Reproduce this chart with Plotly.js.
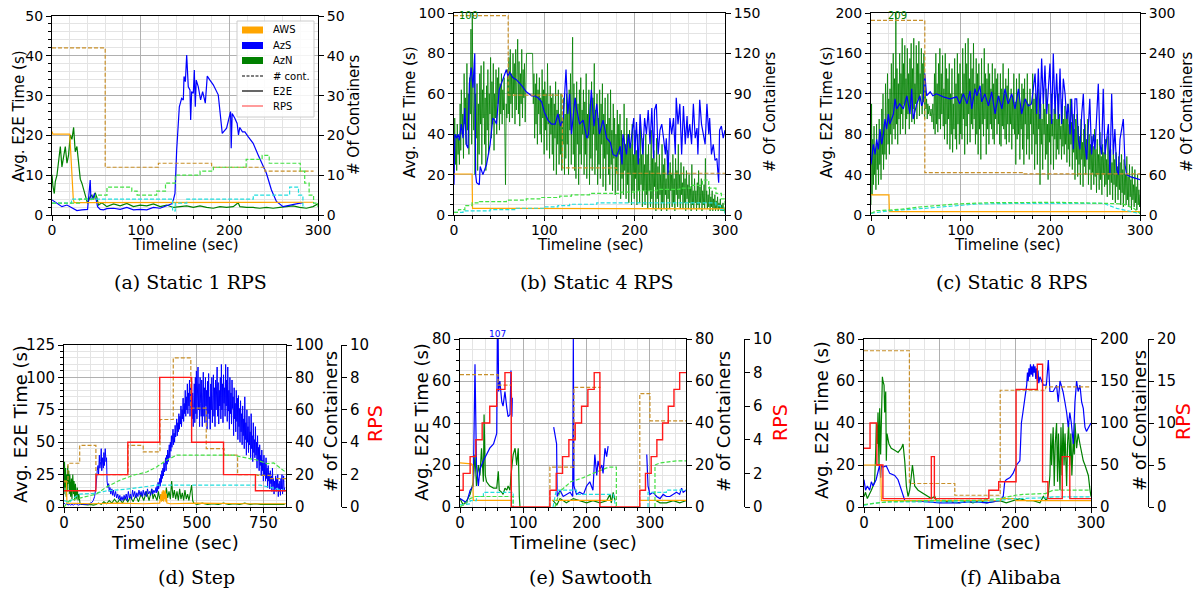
<!DOCTYPE html>
<html><head><meta charset="utf-8">
<script src="https://cdn.plot.ly/plotly-3.0.1.min.js"></script>
<style>html,body{margin:0;padding:0;background:#fff;}#chart{width:1198px;height:592px;}</style>
</head><body><div id="chart"></div>
<script>
// ---------- (a) Static 1 RPS ----------
const A_AWS_E2E = [[0,21],[1,20.3],[20,20.3],[22,12],[24,4],[25,3.1],[130,3.1],[131,3.2],[295,3.2]];
const A_AZS_E2E = [[0,3.8],[5.6,2.9],[11.2,2.1],[16.9,2.5],[22.5,1.7],[28.1,1.1],[33.7,1.3],[40.1,1.4],[43.1,8.8],[43.9,3.8],[46.1,4.2],[48,5.4],[49.9,3.8],[51.4,2.1],[54.4,1.4],[58.1,1.3],[61.9,1.6],[69.4,1.7],[76.9,1.4],[84.4,1.9],[91.9,1.3],[99.4,1.4],[106.9,1.3],[114.4,1.9],[121.9,1.7],[129.4,2.3],[135,2.8],[136.9,3.8],[138.7,5.4],[140.6,16.3],[143.6,27.2],[146.2,29.3],[148.1,28.9],[148.9,34.8],[150.4,33.5],[151.9,40.2],[153.7,32.2],[155.6,31.4],[156.4,23.9],[157.5,31],[159.4,30.6],[160.5,36.4],[161.6,27.2],[162.7,33.9],[165,32.2],[167.6,28.9],[169.9,31],[172.9,28.1],[175.1,34.9],[178.1,33.9],[181.9,32.7],[187.5,30.2],[192,20.5],[196.9,21.8],[201.4,26],[202.1,16.8],[203.2,25.5],[206.2,24.3],[208.8,23],[210.3,20.1],[211.8,22],[214.8,20.9],[217.5,20.9],[221.2,19.7],[226.9,18],[232.5,15.1],[238.1,12.1],[241.8,10.5],[247.5,6.3],[253.1,3.4],[260.6,2.1],[268.1,2.5],[275.6,2.8],[283.1,3.1]];
const A_AZN_E2E = [[0,10.1],[1.1,7.1],[2.6,5.4],[3.7,8.4],[5.6,10],[7.5,13],[9.4,17.2],[11.2,12.1],[13.1,15.1],[15,17.2],[16.9,13],[18.7,15.1],[20.6,20.1],[22.5,19],[24.4,22],[26.2,15.9],[28.1,17.2],[30,12.1],[31.9,9],[33.7,8],[37.5,5],[40.1,2.9],[43.1,4.6],[45,5],[46.9,3.8],[48.7,5.6],[50.6,4.4],[52.5,2.5],[56.2,3.1],[61.9,2.1],[69.4,2.8],[76.9,2.3],[84.4,2.9],[91.9,2.1],[99.4,2.5],[106.9,2.3],[114.4,2.8],[121.9,2.1],[129.4,2.5],[136.9,1.9],[144.4,2.1],[151.9,2.3],[159.4,1.9],[166.9,2.3],[174.4,1.9],[181.9,1.7],[189.4,2.1],[196.9,1.9],[204.4,2.1],[210,3.1],[211.9,2.1],[219.4,1.9],[226.9,1.9],[234.4,1.7],[241.9,1.9],[249.4,1.7],[256.9,1.9],[264.4,2.1],[271.9,2.3],[279.4,1.9],[286.9,1.7],[294.4,2.1],[300,2.8]];
const A_AWS_CNT = [[0,42],[60,12],[120,13],[180,12],[240,11],[295,11]];
const A_AZS_CNT = [[0,3],[22,4],[136,1],[139,3],[152,4],[227,5],[268,7],[278,5],[283,2],[285,2]];
const A_AZN_CNT = [[0,3],[31,4],[49,5],[62,7],[90,6],[96,5],[118,6],[128,8],[139,10],[167,11],[182,12],[219,14],[237,15],[245,13],[280,11],[285,8],[290,5],[295,3],[300,2]];

// ---------- (b) Static 4 RPS ----------
const B_AWS_E2E = [[0,20.3],[20,20.3],[20.5,3.3],[200,3.3],[201,3],[300,3]];
const B_AZS_E2E = [[0,15],[1,40],[3,38],[4.5,40],[6,37],[8,45],[10,38],[12,53],[13.5,35],[15.5,33],[17,65],[19,73],[21,63],[23,80],[24,20],[25,16],[28,15],[29,24],[32,20],[36,25],[40,35],[41,40],[43,48],[45,47],[47,45],[50,62],[54,67],[58,72],[60,68],[61,71],[65,68],[69,67],[75,64],[80,61],[86,59],[89,59],[93,58],[97,56],[100,51],[104,47],[108,45],[112,45],[115,50],[118,44],[121,48],[124,72],[126,50],[128,60],[130,40],[134,58],[136,52],[139,45],[143,47],[147,38],[149,40],[152,62],[155,44],[158,55],[160,45],[161,40],[165,47],[169,38],[173,36],[176,30],[180,29],[184,34],[186,25],[187,40],[191,30],[193,40],[195,33],[199,48],[200,30],[202,46],[204,25],[206,50],[209,30],[211,48],[213,40],[215,52],[217,35],[219,53],[221,28],[222,52],[224,55],[226,30],[228,42],[230,45],[232,38],[234,30],[235,38],[237,20],[239,48],[241,40],[243,48],[245,30],[246,58],[248,45],[250,55],[252,30],[254,54],[256,35],[258,49],[259,38],[261,45],[263,35],[265,55],[267,38],[269,43],[270,30],[272,57],[274,45],[276,40],[278,35],[280,55],[282,40],[283,48],[285,30],[287,35],[289,27],[291,28],[293,16],[294,42],[296,44],[298,38],[300,42]];
const B_AZN_E2E = [[0,20],[0.8,48],[1.5,25],[2.3,40],[3,22],[3.6,45],[4.5,30],[5.2,38],[6,25],[6.8,55],[7.5,32],[8.1,62],[9,40],[9.7,50],[10.5,28],[11.2,70],[12,45],[12.6,58],[13.5,35],[14.3,75],[15,42],[15.8,60],[16.5,30],[17.3,68],[18,50],[18.8,92],[19.6,35],[20.2,100],[21,55],[21.8,42],[22.5,72],[23.2,20],[24,60],[24.7,38],[25.5,65],[26.2,22],[27,55],[27.8,30],[28.5,70],[29.3,45],[30,74],[30.8,25],[31.5,62],[32.3,48],[33,76],[33.8,35],[34.5,58],[35.3,22],[36,64],[36.8,42],[37.5,72],[38.3,30],[39,60],[39.8,50],[40.5,78],[41.3,38],[42,66],[42.8,45],[43.5,75],[44.3,32],[45,60],[45.8,48],[46.5,72],[47.3,40],[48,68],[48.8,55],[49.5,73],[50.3,42],[51,65],[51.8,50],[52.5,70],[53.3,45],[54,62],[54.8,52],[55.5,68],[56.2,40],[57,15],[57.8,55],[58.5,48],[59.3,72],[60,50],[60.8,78],[61.5,46],[62.3,82],[63,55],[63.8,70],[64.5,48],[65.3,80],[66,60],[66.8,75],[67.5,45],[68.3,82],[69,52],[69.8,68],[70.5,87],[71.3,50],[72,76],[72.8,44],[73.5,70],[74.3,55],[75,82],[75.8,48],[76.5,72],[77.3,58],[78,75],[78.8,46],[79.5,70],[80.3,80],[87,80],[87.8,55],[88.5,70],[89.3,38],[90,65],[90.8,45],[91.5,70],[92.3,35],[93,62],[93.8,50],[94.5,68],[95.3,40],[96,58],[96.8,36],[97.5,72],[98.3,48],[99,62],[99.8,30],[100.5,66],[101.3,42],[102,60],[102.8,32],[103.5,75],[104.3,45],[105,55],[105.8,28],[106.5,64],[107.3,40],[108,58],[108.8,30],[109.5,60],[110.3,22],[111,55],[111.8,38],[112.5,66],[113.3,20],[114,52],[114.8,35],[115.5,62],[116.3,25],[117,50],[117.8,30],[118.5,60],[119.3,22],[120,48],[120.8,35],[121.5,58],[122.3,20],[123,50],[123.8,28],[124.5,60],[125.3,35],[126,55],[126.8,20],[127.5,62],[128.3,42],[129,70],[129.8,25],[130.5,60],[131.3,88],[132,30],[132.8,65],[133.5,22],[134.3,58],[135,18],[135.8,66],[136.5,35],[137.3,55],[138,15],[138.8,62],[139.5,30],[140.3,68],[141,25],[141.8,52],[142.5,40],[143.3,62],[144,20],[144.8,56],[145.5,30],[146.3,70],[147,18],[147.8,50],[148.5,38],[149.3,62],[150,15],[150.8,55],[151.5,28],[152.3,66],[153,22],[153.8,58],[154.5,40],[155.3,75],[156,20],[156.8,52],[157.5,32],[158.3,60],[159,15],[159.8,48],[160.5,25],[161.3,62],[162,18],[162.8,55],[163.5,35],[164.3,65],[165,14],[165.8,50],[166.5,28],[167.3,58],[168,12],[168.8,45],[169.5,30],[170.3,60],[171,20],[171.8,48],[172.5,15],[173.3,62],[174,25],[174.8,42],[175.5,12],[176.3,55],[177,28],[177.8,48],[178.5,10],[179.3,40],[180,22],[180.8,52],[181.5,12],[182.3,45],[183,30],[183.8,50],[184.5,8],[185.3,42],[186,18],[186.8,38],[187.5,10],[188.3,55],[189,22],[189.8,35],[190.5,8],[191.3,48],[192,15],[192.8,40],[193.5,6],[194.3,42],[195,20],[195.8,35],[196.5,5],[197.3,45],[198,12],[198.8,30],[199.5,8],[200.3,42],[201,18],[201.8,32],[202.5,5],[203.3,40],[204,12],[204.8,28],[205.5,6],[206.3,45],[207,15],[207.8,30],[208.5,4],[209.3,38],[210,12],[210.8,25],[211.5,5],[212.3,40],[213,10],[213.8,30],[214.5,3],[215.3,35],[216,12],[216.8,22],[217.5,4],[218.3,42],[219,8],[219.8,28],[220.5,3],[221.3,32],[222,14],[222.8,26],[223.5,2],[224.3,38],[225,8],[225.8,24],[226.5,3],[227.3,30],[228,10],[228.8,20],[229.5,2],[230.3,35],[231,6],[231.8,25],[232.5,3],[233.3,28],[234,10],[234.8,18],[235.5,2],[236.3,32],[237,8],[237.8,22],[238.5,3],[239.3,26],[240,12],[240.8,20],[241.5,4],[242.3,30],[243,6],[243.8,18],[244.5,2],[245.3,28],[246,10],[246.8,22],[247.5,4],[248.3,35],[249,8],[249.8,20],[250.5,3],[251.3,26],[252,10],[252.8,16],[253.5,3],[254.3,24],[255,6],[255.8,18],[256.5,2],[257.3,22],[258,8],[258.8,15],[259.5,3],[260.3,20],[261,6],[261.8,14],[262.5,2],[263.3,25],[264,5],[264.8,12],[265.5,3],[266.3,18],[267,6],[267.8,12],[268.5,2],[269.3,16],[270,5],[270.8,22],[271.5,3],[272.3,14],[273,6],[273.8,18],[274.5,2],[275.3,12],[276,5],[276.8,15],[277.5,3],[278.3,28],[279,6],[279.8,12],[280.5,3],[281.3,10],[282,4],[282.8,14],[283.5,2],[284.3,9],[285,4],[285.8,12],[286.5,2],[287.3,8],[288,3],[288.8,10],[289.5,2],[290.3,7],[291,3],[291.8,9],[292.5,2],[293.3,6],[294,3],[294.8,8],[295.5,2],[296.3,5],[297,2],[297.8,6],[298.5,2],[299.3,3],[300,1]];
const B_AWS_CNT = [[0,148],[60,89],[120,35],[180,31],[300,31]];
const B_AZS_CNT = [[0,2],[10,3],[40,4],[69,5],[99,6],[115,7],[128,8],[158,9],[283,9],[290,7],[295,4],[300,1]];
const B_AZN_CNT = [[0,2],[5,4],[12,7],[20,9],[28,10],[58,11],[80,12],[95,13],[117,14],[130,15],[150,16],[185,17],[200,18],[225,19],[250,20],[262,22],[275,26],[282,20],[290,16],[296,12],[300,2]];

// ---------- (c) Static 8 RPS ----------
const C_AWS_E2E = [[0,20],[20,20],[20.5,3.3],[300,3.3]];
const C_AZS_E2E = [[0,50],[2.6,70],[4.5,60],[6.3,75],[8.2,65],[10,85],[11.9,70],[13.8,80],[15.6,95],[17.5,85],[19.3,100],[21,90],[25,100],[26.8,115],[28.6,105],[32,110],[36,105],[40,118],[43.5,100],[45.4,125],[47,95],[51,110],[54.6,118],[56.5,108],[58,112],[60,140],[62,118],[66,122],[69,118],[73,120],[80.6,117],[88,115],[95.6,117],[99,110],[103,120],[107,110],[110.4,123],[112.3,105],[116,125],[118,118],[121.6,128],[123.4,112],[127,120],[131,108],[134.6,122],[138.4,100],[142,118],[146,105],[149.4,125],[153,110],[157,120],[160.6,105],[164.4,125],[168,100],[171.7,115],[175.5,108],[179,110],[183,140],[184.8,100],[186.6,145],[188.5,95],[190.3,155],[192.2,110],[194,148],[196,100],[197.8,130],[199.6,150],[201.5,90],[203.3,160],[205.2,100],[207,140],[209,95],[210.8,145],[212.6,90],[214.5,135],[216.4,120],[218.2,95],[220,110],[222,80],[223.8,115],[225.7,65],[227.5,115],[229.4,115],[231.2,75],[233,65],[235,100],[236.8,120],[238.7,70],[240.5,55],[244,115],[246,60],[248,80],[249.8,65],[253.5,130],[255.4,70],[257.2,60],[259,125],[261,60],[264.7,90],[266.5,40],[268.4,120],[270.3,60],[272,85],[274,45],[276,40],[277.7,75],[281.4,95],[283.3,50],[285,40],[289,38],[292.6,37],[296.4,36],[300,35]];
const C_AZN_E2E = [[0,10],[0.6,110],[1.2,20],[2,75],[2.7,30],[3.4,88],[4,40],[4.8,65],[5.5,25],[6.2,90],[7,45],[7.7,70],[8.4,30],[9.1,95],[9.8,50],[10.5,80],[11.2,35],[12,105],[12.7,60],[13.4,120],[14,45],[14.8,90],[15.5,60],[16.2,130],[17,55],[17.7,100],[18.4,140],[19,70],[19.8,115],[20.5,60],[21.2,125],[22,80],[22.7,150],[23.4,70],[24,110],[24.8,160],[25.5,85],[26.2,135],[27,75],[27.7,209],[28.4,90],[29,145],[29.8,70],[30.5,130],[31.2,95],[32,160],[32.7,80],[33.4,140],[34,100],[34.8,175],[35.5,85],[36.2,150],[37,110],[37.7,168],[38.4,80],[39,135],[39.8,95],[40.5,165],[41.2,100],[42,140],[42.7,85],[43.4,155],[44,110],[44.8,170],[45.5,92],[46.2,145],[47,105],[47.7,175],[48.4,90],[49,130],[49.8,110],[50.5,168],[51.2,95],[52,150],[52.7,115],[53.4,172],[54,98],[54.8,140],[55.5,120],[56.2,165],[57,100],[57.7,150],[58.4,112],[59,160],[59.8,95],[60.5,130],[61.2,105],[62,115],[62.7,95],[63.4,110],[64,100],[65,108],[66,98],[67,105],[68,92],[69,110],[70,85],[70.8,140],[71.5,80],[72.3,160],[73,90],[73.8,130],[74.5,82],[75.3,150],[76,95],[76.8,165],[77.5,85],[78.3,140],[79,100],[79.8,158],[80.5,88],[81.3,125],[82,75],[82.8,160],[83.5,90],[84.3,145],[85,70],[85.8,135],[86.5,95],[87.3,150],[88,65],[88.8,120],[89.5,80],[90.3,145],[91,62],[91.8,110],[92.5,85],[93.3,155],[94,75],[94.8,130],[95.5,65],[96.3,160],[97,90],[97.8,140],[98.5,70],[99.3,150],[100,80],[100.8,120],[101.5,75],[102.3,165],[103,95],[103.8,140],[104.5,60],[105.3,170],[106,88],[106.8,150],[107.5,70],[108.3,175],[109,100],[109.8,135],[110.5,72],[111.3,160],[112,90],[112.8,145],[113.5,85],[114.3,170],[115,95],[115.8,130],[116.5,70],[117.3,155],[118,80],[118.8,140],[119.5,60],[120.3,150],[121,85],[121.8,120],[122.5,55],[123.3,155],[124,90],[124.8,130],[125.5,78],[126.3,165],[127,95],[127.8,140],[128.5,60],[129.3,135],[130,85],[130.8,150],[131.5,70],[132.3,140],[133,90],[133.8,125],[134.5,85],[135.3,150],[136,75],[136.8,130],[137.5,70],[138.3,145],[139,95],[139.8,135],[140.5,80],[141.3,140],[142,90],[142.8,118],[143.5,70],[144.3,140],[145,68],[145.8,125],[146.5,88],[147.3,150],[148,85],[148.8,120],[149.5,75],[150.3,135],[151,70],[151.8,128],[152.5,90],[153.3,145],[154,72],[154.8,115],[155.5,90],[156.3,125],[157,65],[157.8,118],[158.5,85],[159.3,140],[160,80],[160.8,112],[161.5,50],[162.3,135],[163,75],[163.8,120],[164.5,80],[165.3,140],[166,55],[166.8,110],[167.5,85],[168.3,130],[169,65],[169.8,125],[170.5,50],[171.3,135],[172,90],[172.8,115],[173.5,60],[174.3,140],[175,75],[175.8,110],[176.5,55],[177.3,125],[178,90],[178.8,105],[179.5,60],[180.3,140],[181,80],[181.8,115],[182.5,45],[183.3,120],[184,70],[184.8,105],[185.5,50],[186.3,125],[187,85],[187.8,100],[188.5,30],[189.3,110],[190,70],[190.8,95],[191.5,45],[192.3,120],[193,80],[193.8,105],[194.5,55],[195.3,125],[196,60],[196.8,90],[197.5,35],[198.3,110],[199,72],[199.8,100],[200.5,50],[201.3,120],[202,78],[202.8,95],[203.5,45],[204.3,105],[205,75],[205.8,110],[206.5,55],[207.3,95],[208,65],[208.8,120],[209.5,60],[210.3,100],[211,75],[211.8,88],[212.5,55],[213.3,115],[214,68],[214.8,95],[215.5,60],[216.3,108],[217,70],[217.8,95],[218.5,52],[219.3,110],[220,65],[220.8,90],[221.5,48],[222.3,115],[223,70],[223.8,92],[224.5,45],[225.3,100],[226,62],[226.8,85],[227.5,35],[228.3,95],[229,55],[229.8,100],[230.5,38],[231.3,88],[232,50],[232.8,78],[233.5,30],[234.3,95],[235,55],[235.8,72],[236.5,28],[237.3,85],[238,48],[238.8,90],[239.5,40],[240.3,75],[241,55],[241.8,95],[242.5,30],[243.3,80],[244,45],[244.8,70],[245.5,25],[246.3,78],[247,42],[247.8,68],[248.5,30],[249.3,85],[250,38],[250.8,65],[251.5,22],[252.3,75],[253,40],[253.8,60],[254.5,25],[255.3,82],[256,35],[256.8,58],[257.5,20],[258.3,70],[259,40],[259.8,62],[260.5,28],[261.3,75],[262,30],[262.8,55],[263.5,18],[264.3,78],[265,35],[265.8,50],[266.5,20],[267.3,65],[268,32],[268.8,52],[269.5,15],[270.3,70],[271,30],[271.8,55],[272.5,12],[273.3,62],[274,28],[274.8,48],[275.5,15],[276.3,58],[277,25],[277.8,52],[278.5,10],[279.3,60],[280,22],[280.8,45],[281.5,8],[282.3,55],[283,20],[283.8,40],[284.5,10],[285.3,58],[286,15],[286.8,38],[287.5,8],[288.3,50],[289,18],[289.8,35],[290.5,5],[291.3,48],[292,15],[292.8,30],[293.5,8],[294.3,45],[295,12],[295.8,28],[296.5,5],[297.3,40],[298,10],[298.8,25],[299.5,8],[300,20]];
const C_AWS_CNT = [[0,289],[60,63],[170,61],[300,61]];
const C_AZS_CNT = [[0,2.5],[21,6.4],[60,9.9],[95.5,13.9],[118,16.4],[170,17.4],[259,17.4],[274,9.9],[296,2.5],[300,2]];
const C_AZN_CNT = [[0,2.5],[6.3,6.4],[21,7.4],[32,8.4],[58,12.4],[77,14.9],[95.5,16.4],[133,18.3],[207,18.8],[259,17.4],[281,16.4],[293,9.9],[300,2.5]];

// ---------- (d) Step ----------
const D_AWS_E2E = [[0,20],[9,20],[11,3],[100,2.5],[200,3],[300,2.5],[360,3],[365,10],[367,4],[369,12],[371,5],[373,13],[375,4],[377,12],[379,6],[381,13],[383,4],[385,10],[387,3],[400,2.5],[500,3],[600,2.5],[700,2.5],[835,2.5]];
const D_AZS_E2E = [[0,3],[5,2],[10,2.5],[15,1.5],[20,2],[25,1.5],[30,2],[35,1.5],[40,2],[45,2.5],[50,2],[55,1.5],[60,2],[65,2.5],[70,2],[75,2],[80,1.5],[85,2],[90,2],[95,2.5],[100,3],[105,3.5],[110,5],[115,8],[120,15],[122,25],[125,28],[128,32],[130,25],[133,40],[135,30],[138,35],[140,45],[142,28],[145,38],[148,30],[150,42],[152,32],[155,45],[158,35],[160,38],[162,20],[165,15],[168,18],[170,12],[173,15],[176,10],[180,14],[183,9],[186,13],[190,8],[194,12],[198,7],[202,10],[206,6],[210,9],[214,5],[218,8],[222,5],[226,9],[230,6],[234,10],[238,5],[242,12],[246,7],[250,10],[254,6],[258,13],[262,8],[266,12],[270,7],[274,11],[278,8],[282,13],[286,9],[290,12],[294,8],[298,13],[302,9],[306,12],[310,8],[314,14],[318,10],[322,12],[326,9],[330,14],[334,10],[338,13],[342,11],[346,15],[348,11],[350,16],[352,12],[354,19],[356,14],[358,17],[360,22],[362,16],[364,25],[366,19],[368,28],[370,22],[372,30],[374,24],[376,34],[378,27],[380,31],[382,38],[384,28],[386,40],[388,33],[390,44],[392,35],[394,42],[396,48],[398,38],[400,50],[402,43],[404,55],[406,46],[408,52],[410,60],[412,48],[414,57],[416,50],[418,63],[420,54],[422,60],[424,68],[426,55],[428,65],[430,58],[432,72],[434,60],[436,70],[438,64],[440,78],[442,62],[444,75],[446,68],[448,84],[450,66],[452,80],[454,72],[456,90],[458,70],[460,85],[462,75],[464,95],[466,72],[468,88],[470,78],[472,98],[474,70],[476,92],[478,82],[480,97],[482,68],[484,88],[486,62],[488,80],[490,95],[492,65],[494,100],[496,72],[498,105],[500,68],[502,90],[504,108],[506,75],[508,95],[510,62],[512,100],[514,80],[516,70],[518,98],[520,62],[522,88],[524,104],[526,70],[528,92],[530,65],[532,100],[534,78],[536,90],[538,60],[540,97],[542,72],[544,103],[546,68],[548,85],[550,60],[552,95],[554,75],[556,100],[558,65],[560,88],[562,102],[564,70],[566,92],[568,62],[570,98],[572,75],[574,88],[576,108],[578,70],[580,96],[582,64],[584,90],[586,78],[588,100],[590,68],[592,110],[594,75],[596,95],[598,65],[600,102],[602,80],[604,92],[606,70],[608,110],[610,78],[612,98],[614,66],[616,108],[618,74],[620,90],[622,60],[624,100],[626,72],[628,88],[630,64],[632,98],[634,76],[636,85],[638,55],[640,92],[642,68],[644,80],[646,58],[648,90],[650,66],[652,84],[654,52],[656,86],[658,62],[660,76],[662,50],[664,82],[666,58],[668,72],[670,48],[672,78],[674,55],[676,68],[678,45],[680,85],[682,52],[684,65],[686,40],[688,75],[690,50],[692,62],[694,42],[696,70],[698,48],[700,58],[702,38],[704,72],[706,45],[708,55],[710,35],[712,65],[714,42],[716,52],[718,38],[720,62],[722,40],[724,50],[726,30],[728,55],[730,36],[732,46],[734,28],[736,48],[738,32],[740,40],[742,24],[744,44],[746,28],[748,36],[750,20],[752,40],[754,25],[756,34],[758,20],[760,38],[762,22],[764,30],[766,15],[768,32],[770,20],[772,26],[774,14],[776,28],[778,18],[780,24],[782,12],[784,30],[786,16],[788,22],[790,10],[792,20],[794,14],[796,24],[798,12],[800,22],[802,15],[804,25],[806,8],[808,18],[810,12],[812,20],[814,9],[816,22],[818,14],[820,25],[822,10],[824,18],[826,24],[828,12],[830,15]];
const D_AZN_E2E = [[0,10],[2,35],[4,15],[6,30],[8,8],[10,25],[12,12],[14,32],[16,18],[18,28],[20,10],[22,25],[25,8],[28,22],[30,6],[33,25],[36,10],[38,20],[40,5],[43,18],[46,6],[50,15],[53,5],[56,10],[60,3],[65,2],[70,2],[80,1.5],[90,1.5],[100,2],[110,1.5],[120,2],[130,3],[140,2],[150,4],[160,2.5],[170,5],[180,3],[190,6],[200,3],[210,6],[220,3],[230,7],[240,4],[250,8],[260,4],[270,9],[280,4],[290,10],[300,5],[310,12],[320,5],[330,14],[335,6],[340,10],[350,5],[355,12],[360,6],[365,10],[370,5],[375,12],[380,6],[385,15],[390,7],[395,12],[400,6],[405,20],[410,7],[415,13],[420,6],[425,12],[430,5],[435,14],[440,6],[445,11],[450,5],[455,13],[460,6],[465,10],[470,5],[475,12],[480,17],[484,5],[488,3],[500,2],[520,3],[540,2],[560,2.5],[580,2],[600,3],[620,2],[640,2.5],[660,2],[680,3],[700,2],[720,2.5],[740,2],[760,2],[780,2],[800,2.5],[820,2],[830,2]];
const D_AWS_CNT = [[0,15.5],[15,27],[59,38],[120,20],[241,38],[298,34],[361,54],[411,92],[477,61],[535,36],[602,32],[653,20],[726,19.5],[776,17.5],[835,17.5]];
const D_AZS_CNT = [[0,4],[21,3],[40,6],[59,8],[122,8.5],[160,10],[235,11],[285,12],[348,13.5],[738,13.5],[763,12.5],[833,10]];
const D_AZN_CNT = [[0,0],[21,4],[72,6],[122,8],[160,12.4],[210,16.5],[260,19.6],[311,21.6],[348,24.7],[386,28.9],[424,32],[638,32],[663,31],[726,29],[763,26.8],[789,27.2],[833,21.6]];
const D_RPS = [[0,1],[120,2],[240,4],[360,8],[480,4],[600,2],[720,1],[835,1]];

// ---------- (e) Sawtooth ----------
const E_AWS_E2E = [[0,21],[18,20.5],[20,20],[21,3.2],[81,3.2],[81,null],[145,3.2],[240,3.2],[240,null],[285,3.2],[357,3.2]];
const E_AZS_E2E = [[0,4],[5,3],[10.5,2],[16,8],[21,10],[23.7,68],[26,20],[29,10],[31.5,18],[37,22],[42,25],[47,28],[53,30],[58,35],[59.5,107],[61,55],[63,60],[66,50],[68,48],[71,55],[74,47],[76,43],[79,44],[80.5,65],[82,43],[82.6,52],[83,null],[148,38],[152.6,30],[153.5,5],[158,8],[163,5],[168,6],[174,7],[178,5],[179,80],[180,10],[184,6],[189,7],[195,6],[200,10],[205,12],[210,8],[213,25],[216,15],[218,22],[221,18],[224,20],[226,16],[229,28],[231.6,24],[234,29],[235,null],[295,25],[297,10],[300,6],[305,7],[310.5,5],[316,4],[321,6],[326,5],[331.6,5],[337,6],[342,7],[347,6],[350,9],[352.6,7],[357,8]];
const E_AZN_E2E = [[0,4],[5,1],[10.5,3],[16,6],[21,12],[23.7,25],[26,10],[29,20],[31.5,15],[34,28],[37,12],[38,44],[40,15],[42,12],[47,10],[53,9],[58,9],[60.5,17],[62,8],[66,7],[68,6],[71,9],[74,8],[76,10],[79,8],[80.5,15],[84,25],[87,28],[89.5,20],[92,28],[93.7,5],[94.7,0],[95,null],[147,3],[153,1],[158,4],[163,3],[168,2],[179,4],[189,3],[200,2],[210,3],[221,2],[231.6,3],[237,6],[239,2],[242,7],[245,3],[246,null],[310,3],[316,2],[326,2],[337,3],[347,2],[357,3]];
const E_AWS_CNT = [[0,63],[60,63],[60,58],[81,58],[81,null],[142,0],[142,19],[180,19],[180,57],[222,57],[222,null],[284,0],[284,54],[300,54],[300,41],[357,41]];
const E_AZS_CNT = [[0,1],[16,1.5],[16,3],[26,3],[26,5],[37,5],[37,7],[84,7],[84,0],[84,null],[147,0],[152,8],[184,8],[184,6],[242,6],[246,0],[246,null],[297,0],[297,7],[326,7],[326,8],[357,8]];
const E_AZN_CNT = [[0,0],[10,2],[16,4],[24,5],[84,5],[84,0],[84,null],[150,0],[155,5],[160,8],[168,10],[175,12],[185,13],[195,14],[210,16],[225,18],[235,19],[247,19],[247,0],[247,null],[308,0],[308,20],[316,21],[342,22],[357,22]];
const E_RPS = [[0,1],[5,2],[16,3],[25,4],[35,5],[47,6],[58,7],[71,8],[81,0],[142,1],[152,2],[162,3],[172,4],[182,5],[192,6],[202,7],[212,8],[221,0],[284,1],[293,2],[302,3],[311,4],[320,5],[329,6],[338,7],[347,8],[357,8]];

// ---------- (f) Alibaba ----------
const F_AWS_E2E = [[0,20],[22,20],[23,3],[180,3],[181,4],[200,4],[201,3],[300,3]];
const F_AZS_E2E = [[0,13],[2,8],[4.4,10],[7.5,8],[9.7,12],[12,10],[16,13],[18.5,17],[20.7,20],[22,14],[23,20],[25,19],[29.5,19.5],[34,16],[40.6,15],[45,13],[49.4,8],[54,3],[65,3],[82.5,2.5],[100,2],[122,2],[144,2.5],[162,2],[179.5,3],[184,5],[186,12],[188,13],[193,14],[197,16],[201.6,20],[206,22],[208,40],[210,45],[215,58],[216,64],[217,60],[218,66],[219,62],[220,68],[221,63],[222,67],[223,62],[224,68],[225,64],[226,67],[227,61],[228,66],[229,60],[230,65],[231,59],[232.5,62],[237,58],[241,58],[243.6,70],[245.7,55],[250,55],[254.5,58],[256.7,50],[259,60],[263,55],[265.5,50],[267.8,45],[270,38],[272,45],[274,40],[276.6,30],[278.8,50],[281,60],[283,55],[285.4,58],[287.6,50],[289.8,47],[292,38],[294,36],[300,40]];
const F_AZN_E2E = [[0,5],[2,7],[4.4,4],[7.5,6],[9.7,8],[12,10],[14,12],[15.4,25],[16.3,40],[17.6,30],[18.5,45],[19.8,20],[20.7,47],[22,25],[23.4,55],[24.3,62],[25,60],[26.5,58],[27.3,45],[28.7,55],[29.5,22],[30.4,35],[33,30],[36,28],[40.6,27],[45,26],[49.4,28],[51.6,30],[53.8,22],[56,10],[58.2,5],[60.4,8],[62.6,15],[64,20],[65.7,15],[67,10],[71.5,8],[75.9,7],[80,6],[84.7,5],[89,4],[93.5,5],[95.7,3],[100,3],[113,2.5],[126.6,2],[135,3],[144,2],[153,3],[162,2],[170.7,2.5],[179.5,3],[188,2],[197,3],[206,4],[215,3],[223.6,3],[232.5,2],[237,5],[241,3],[243.6,6],[245.7,15],[247,35],[248,20],[250,38],[251.4,10],[252.7,30],[254.5,40],[255.8,12],[257,35],[259,8],[260.3,38],[261.7,15],[263,40],[264.4,20],[265.7,35],[267.8,10],[269,30],[270.4,40],[272,20],[273.4,35],[274.7,15],[276.6,32],[277.9,25],[278.8,40],[281,28],[283,35],[285.4,30],[287.6,25],[289.8,22],[292,20],[294,18],[296.5,15],[298.7,8],[300,5]];
const F_AWS_CNT = [[0,186],[60,28],[120,14],[180,139],[240,143],[300,143]];
const F_AZS_CNT = [[0,2],[10,4],[30,6],[150,6],[180,8],[200,10],[240,11],[250,12],[300,12]];
const F_AZN_CNT = [[0,3],[20,5],[30,6],[60,7],[100,8],[150,8],[180,10],[200,14],[210,15],[240,16],[250,20],[300,20]];
const F_RPS = [[0,7],[8,10],[17,5],[25,1],[89,6],[93,1],[165,2],[178,3],[201,14],[229,17],[236,3],[243,1],[262,6],[272,1],[300,1]];

// ---------- text ----------
const CAPTIONS = ['(a) Static 1 RPS','(b) Static 4 RPS','(c) Static 8 RPS','(d) Step','(e) Sawtooth','(f) Alibaba'];
const LEGEND_LABELS = ['AWS','AzS','AzN','# cont.','E2E','RPS'];

// ---------- build ----------
const W = 1198, H = 592;
const fx = p => p / W, fy = p => 1 - p / H;
const COL = {aws:'#ffa500', azs:'#0000ff', azn:'#008000', awsC:'#c8902a', azsC:'#22dede', aznC:'#44e044', rps:'#ff1a1a'};

const SUBS = [
  {x:[52,318], y:[16,215], xr:[0,300], yr:[0,50], y2r:[0,50], xd:100, xm:20, yd:10, ym:2, y2d:10, fs:14, gw:1.2},
  {x:[454,725], y:[13,215], xr:[0,300], yr:[0,100], y2r:[0,150], xd:100, xm:20, yd:20, ym:5, y2d:30, fs:14, gw:0.8},
  {x:[871,1140], y:[13,215], xr:[0,300], yr:[0,200], y2r:[0,300], xd:100, xm:20, yd:40, ym:10, y2d:60, fs:14, gw:0.8},
  {x:[64,286], y:[345,507], xr:[0,835], yr:[0,125], y2r:[0,100], xd:250, xm:50, yd:25, ym:5, y2d:20, fs:15, gw:1.1, rps:{pos:341, r:[0,10], d:2}},
  {x:[460,686], y:[339,507], xr:[0,357], yr:[0,80], y2r:[0,80], xd:100, xm:20, yd:20, ym:5, y2d:20, fs:15, gw:1.2, rps:{pos:744, r:[0,10], d:2}},
  {x:[864,1091], y:[339,507], xr:[0,300], yr:[0,80], y2r:[0,200], xd:100, xm:20, yd:20, ym:5, y2d:50, fs:15, gw:1.2, rps:{pos:1148, r:[0,20], d:5}}
];

const SERIES = [
  {e2e:[A_AZN_E2E,A_AZS_E2E,A_AWS_E2E], cnt:[A_AWS_CNT,A_AZS_CNT,A_AZN_CNT], cshape:['hv','hv','hv']},
  {e2e:[B_AZN_E2E,B_AZS_E2E,B_AWS_E2E], cnt:[B_AWS_CNT,B_AZS_CNT,B_AZN_CNT], cshape:['hv','hv','hv']},
  {e2e:[C_AZN_E2E,C_AZS_E2E,C_AWS_E2E], cnt:[C_AWS_CNT,C_AZS_CNT,C_AZN_CNT], cshape:['hv','linear','linear']},
  {e2e:[D_AZN_E2E,D_AZS_E2E,D_AWS_E2E], cnt:[D_AWS_CNT,D_AZS_CNT,D_AZN_CNT], cshape:['hv','linear','linear'], rps:D_RPS, rshape:'hv'},
  {e2e:[E_AZN_E2E,E_AZS_E2E,E_AWS_E2E], cnt:[E_AWS_CNT,E_AZS_CNT,E_AZN_CNT], cshape:['linear','linear','linear'], rps:E_RPS, rshape:'hv'},
  {e2e:[F_AZN_E2E,F_AZS_E2E,F_AWS_E2E], cnt:[F_AWS_CNT,F_AZS_CNT,F_AZN_CNT], cshape:['hv','linear','linear'], rps:F_RPS, rshape:'hv'}
];
const E2E_COLS = [COL.azn, COL.azs, COL.aws];
const CNT_COLS = [COL.awsC, COL.azsC, COL.aznC];

const xn = k => k === 1 ? 'x' : 'x' + k;
const yn = n => n === 1 ? 'y' : 'y' + n;
const xk = k => k === 1 ? 'xaxis' : 'xaxis' + k;
const yk = n => n === 1 ? 'yaxis' : 'yaxis' + n;

function line(data, xa, ya, color, width, dash, shape) {
  return {type:'scatter', mode:'lines', x:data.map(p=>p[0]), y:data.map(p=>p[1]),
    xaxis:xa, yaxis:ya, hoverinfo:'skip', showlegend:false,
    line:{color:color, width:width, dash:dash||'solid', shape:shape||'linear'}};
}

const traces = [];
const layout = {width:W, height:H, margin:{l:0,r:0,t:0,b:0}, paper_bgcolor:'#fff', plot_bgcolor:'#fff',
  showlegend:false, font:{family:'DejaVu Sans', color:'#000'}, annotations:[], shapes:[]};

const GRID = '#b0b0b0', MINOR = '#e4e4e4';
SUBS.forEach((s, i) => {
  const k = i + 1, S = SERIES[i];
  const tf = {family:'DejaVu Sans', size:s.fs, color:'#000'};
  layout[xk(k)] = {domain:[fx(s.x[0]), fx(s.x[1])], range:s.xr, anchor:yn(k), tick0:0, dtick:s.xd,
    showline:true, mirror:true, linecolor:'#000', linewidth:1, ticks:'outside', ticklen:5, tickcolor:'#000',
    ticklabelstandoff:-3,
    showgrid:true, gridcolor:GRID, gridwidth:1, zeroline:false, tickfont:tf,
    minor:{dtick:s.xm, tick0:0, showgrid:true, gridcolor:MINOR, ticks:'outside', ticklen:3, tickcolor:'#000'}};
  layout[yk(k)] = {domain:[fy(s.y[1]), fy(s.y[0])], range:s.yr, anchor:xn(k), tick0:0, dtick:s.yd,
    showline:true, linecolor:'#000', linewidth:1, ticks:'outside', ticklen:5, tickcolor:'#000',
    showgrid:true, gridcolor:GRID, gridwidth:1, zeroline:false, tickfont:tf,
    minor:{dtick:s.ym, tick0:0, showgrid:true, gridcolor:MINOR, ticks:'outside', ticklen:3, tickcolor:'#000'}};
  layout[yk(k+6)] = {overlaying:yn(k), side:'right', anchor:xn(k), range:s.y2r, tick0:0, dtick:s.y2d,
    showline:true, linecolor:'#000', linewidth:1, ticks:'outside', ticklen:5, tickcolor:'#000',
    showgrid:false, zeroline:false, tickfont:tf};
  const widths = [s.gw, i === 3 ? 1.0 : 1.2, 1.2];
  S.e2e.forEach((d, j) => traces.push(line(d, xn(k), yn(k), E2E_COLS[j], widths[j])));
  S.cnt.forEach((d, j) => traces.push(line(d, xn(k), yn(k+6), CNT_COLS[j], 1.2, '4px,2px', S.cshape[j])));
  if (s.rps) {
    layout[yk(k+9)] = {overlaying:yn(k), side:'right', anchor:'free', position:fx(s.rps.pos), range:s.rps.r,
      tick0:0, dtick:s.rps.d, showline:true, linecolor:'#000', linewidth:1, ticks:'outside', ticklen:5,
      tickcolor:'#000', showgrid:false, zeroline:false, tickfont:tf};
    traces.push(line(S.rps, xn(k), yn(k+9), COL.rps, 1.4, 'solid', S.rshape));
  }
});

// axis titles
const TITLES = [
  {l:[19,116], r:[354,115], b:[185,245], fs:15, rt:'# Of Containers'},
  {l:[410,112], r:[770,112], b:[590,245], fs:15, rt:'# Of Containers'},
  {l:[827,112], r:[1187,112], b:[1007,245], fs:15, rt:'# Of Containers'},
  {l:[20,424], r:[330,422], b:[175,542], fs:18, rt:'# of Containers', p:[375,424]},
  {l:[421,422], r:[723,422], b:[573,542], fs:18, rt:'# of Containers', p:[780,422]},
  {l:[821,420], r:[1139,421], b:[977,542], fs:18, rt:'# of Containers', p:[1183,422]}
];
function ann(text, x, y, size, opts) {
  return Object.assign({text:text, xref:'paper', yref:'paper', x:fx(x), y:fy(y), showarrow:false,
    xanchor:'center', yanchor:'middle', font:{family:'DejaVu Sans', size:size, color:'#000'}}, opts||{});
}
TITLES.forEach(t => {
  layout.annotations.push(ann('Avg. E2E Time (s)', t.l[0], t.l[1], t.fs, {textangle:-90}));
  layout.annotations.push(ann(t.rt, t.r[0], t.r[1], t.fs, {textangle:-90}));
  layout.annotations.push(ann('Timeline (sec)', t.b[0], t.b[1], t.fs));
  if (t.p) layout.annotations.push(ann('RPS', t.p[0], t.p[1], t.fs + 1, {textangle:-90, font:{family:'DejaVu Sans', size:t.fs+1, color:'#ff0000'}}));
});

// captions
const CAP_POS = [[190,282],[597,282],[1012,282],[196,577],[590,577],[1010,577]];
CAPTIONS.forEach((c, i) => layout.annotations.push(ann(c, CAP_POS[i][0], CAP_POS[i][1], 19,
  {font:{family:'DejaVu Serif', size:19, color:'#000'}})));

// peak labels for clipped values
layout.annotations.push({text:'100', xref:'x2', yref:'paper', x:16, y:fy(8), showarrow:false, font:{family:'DejaVu Sans', size:10, color:COL.azn}});
layout.annotations.push({text:'209', xref:'x3', yref:'paper', x:29, y:fy(8), showarrow:false, font:{family:'DejaVu Sans', size:10, color:COL.azn}});
layout.annotations.push({text:'107', xref:'x5', yref:'paper', x:59, y:fy(334), showarrow:false, font:{family:'DejaVu Sans', size:9, color:COL.azs}});

// legend in (a)
const rect = (x0,y0,x1,y1,o) => Object.assign({type:'rect', xref:'paper', yref:'paper', x0:fx(x0), x1:fx(x1), y0:fy(y1), y1:fy(y0)}, o);
const seg = (x0,x1,y,o) => Object.assign({type:'line', xref:'paper', yref:'paper', x0:fx(x0), x1:fx(x1), y0:fy(y), y1:fy(y)}, o);
layout.shapes.push(rect(237,21,314,117,{fillcolor:'rgba(255,255,255,0.85)', line:{color:'#cccccc', width:1}}));
const LY = [30,45.5,60.5,76,91,106];
layout.shapes.push(rect(242,LY[0]-3.5,263,LY[0]+3.5,{fillcolor:COL.aws, line:{width:0}}));
layout.shapes.push(rect(242,LY[1]-3.5,263,LY[1]+3.5,{fillcolor:COL.azs, line:{width:0}}));
layout.shapes.push(rect(242,LY[2]-3.5,263,LY[2]+3.5,{fillcolor:COL.azn, line:{width:0}}));
layout.shapes.push(seg(242,263,LY[3],{line:{color:'#000', width:1, dash:'3px,1.5px'}}));
layout.shapes.push(seg(242,263,LY[4],{line:{color:'#000', width:1.2}}));
layout.shapes.push(seg(242,263,LY[5],{line:{color:'#ff7a7a', width:1.5}}));
LEGEND_LABELS.forEach((t, i) => layout.annotations.push(ann(t, 271, LY[i], 10, {xanchor:'left'})));

Plotly.newPlot('chart', traces, layout, {staticPlot:true, displayModeBar:false});
</script></body></html>
